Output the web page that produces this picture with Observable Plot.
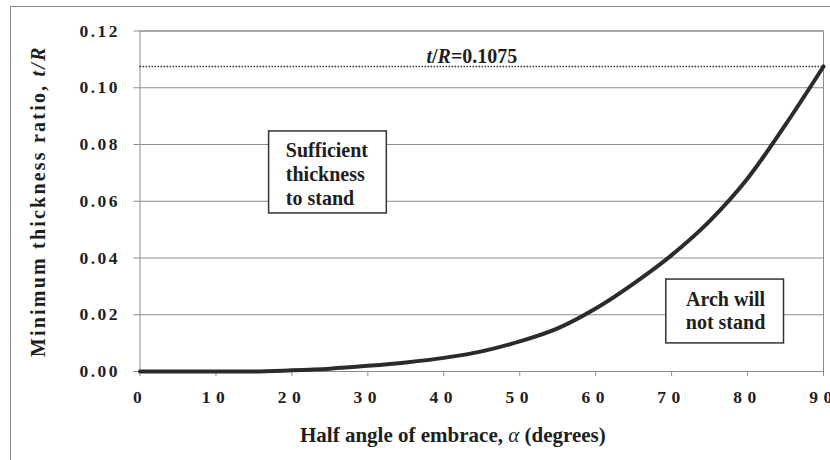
<!DOCTYPE html>
<html><head><meta charset="utf-8">
<script src="https://cdn.jsdelivr.net/npm/d3@7"></script>
<script src="https://cdn.jsdelivr.net/npm/@observablehq/plot@0.6"></script>
<style>
html,body{margin:0;padding:0;background:#fff;overflow:hidden;width:830px;height:460px}
#wrap{position:relative;width:830px;height:460px}
#border{position:absolute;left:10px;top:6px;width:900px;height:600px;border:1px solid #8a8a8a;box-sizing:border-box}
#wrap svg{position:absolute;left:0;top:0}
#wrap svg, #wrap svg text, #wrap svg tspan{font-family:"Liberation Serif","Times New Roman",serif !important}
g[aria-label="y-axis tick label"] text{letter-spacing:2.5px}
g[aria-label="x-axis tick label"] text{letter-spacing:5.5px}
</style></head><body><div id="wrap"><div id="border"></div></div>
<script>
// Data
const angles    = [0, 5, 10, 15, 20, 25, 30, 35, 40, 45, 50, 55, 60, 65, 70, 75, 80, 85, 90];
const thickness = [0, 0, 0, 0, 0.0004, 0.001, 0.002, 0.0032, 0.0048, 0.0071, 0.0106, 0.0152, 0.0222, 0.031, 0.041, 0.053, 0.068, 0.087, 0.1075];
const xTicks = [0, 10, 20, 30, 40, 50, 60, 70, 80, 90];
const yTicks = [0, 0.02, 0.04, 0.06, 0.08, 0.10, 0.12];
const limitValue = 0.1075;
const limitLabel = "t/R=0.1075";
const xTitle = "Half angle of embrace, α (degrees)";
const yTitle = "Minimum thickness ratio, t/R";
const zoneLabels = ["Sufficient\nthickness\nto stand", "Arch will\nnot stand"];

// annotation placement (data units)
const zoneBoxX1 = [17.0, 69.3];
const zoneBoxX2 = [32.5, 84.8];
const zoneBoxY1 = [0.0557, 0.0099];
const zoneBoxY2 = [0.0846, 0.0324];
const zoneTextX = [19.2, 77.1];
const zoneTextY = [0.0699, 0.0218];

const curveData = angles.map((a, i) => ({a, t: thickness[i]}));
const zones = zoneLabels.map((label, i) => ({
  label, x1: zoneBoxX1[i], x2: zoneBoxX2[i], y1: zoneBoxY1[i], y2: zoneBoxY2[i],
  tx: zoneTextX[i], ty: zoneTextY[i]
}));

const serif = "Liberation Serif";
const ink = "#1e1e1e";
const grid = "#8c8c8c";

const chart = Plot.plot({
  width: 830,
  height: 460,
  marginLeft: 139.5,
  marginRight: 7,
  marginTop: 30.5,
  marginBottom: 89,
  style: {fontFamily: serif, fontSize: "17px", fontWeight: "bold", color: ink, background: "transparent"},
  x: {domain: [0, 90]},
  y: {domain: [0, 0.12]},
  marks: [
    Plot.ruleY(yTicks, {stroke: grid, strokeWidth: 1}),
    Plot.frame({stroke: grid, strokeWidth: 1}),
    Plot.axisY({ticks: yTicks, tickFormat: d3.format(".2f"), tickSize: 6, tickPadding: 14, label: null, stroke: grid, fill: ink, fontSize: 17.5, fontFamily: serif}),
    Plot.axisX({ticks: xTicks, tickFormat: d => String(d), tickSize: 5, tickPadding: 14, label: null, stroke: grid, fill: ink, fontSize: 17.5, fontFamily: serif}),
    Plot.ruleY([limitValue], {stroke: "#333", strokeWidth: 1.5, strokeDasharray: "1.5,1.5"}),
    Plot.text([limitLabel], {x: 43.7, y: limitValue, dy: -9.5, text: d => d, fontSize: 20, fill: ink, fontWeight: "bold", fontFamily: serif}),
    Plot.line(curveData, {x: "a", y: "t", stroke: "#2b2b2b", strokeWidth: 4, curve: "monotone-x"}),
    Plot.rect(zones, {x1: "x1", x2: "x2", y1: "y1", y2: "y2", fill: "white", stroke: "#333", strokeWidth: 1.5}),
    Plot.text(zones.slice(0, 1), {x: "tx", y: "ty", text: "label", textAnchor: "start", fontSize: 20, lineHeight: 1.2, fill: ink, fontWeight: "bold", fontFamily: serif}),
    Plot.text(zones.slice(1), {x: "tx", y: "ty", text: "label", textAnchor: "middle", fontSize: 20, lineHeight: 1.15, fill: ink, fontWeight: "bold", fontFamily: serif}),
    Plot.text([yTitle], {frameAnchor: "left", textAnchor: "middle", lineAnchor: "middle", rotate: -90, dx: -101, text: d => d, fontSize: 20, fill: ink, fontWeight: "bold", fontFamily: serif}),
    Plot.text([xTitle], {x: 41.2, frameAnchor: "bottom", textAnchor: "middle", lineAnchor: "middle", dy: 64, text: d => d, fontSize: 21, fill: ink, fontWeight: "bold", fontFamily: serif})
  ]
});

document.getElementById("wrap").appendChild(chart);

function styleParts(full, parts, spacing) {
  chart.querySelectorAll("text").forEach(t => {
    if (t.textContent === full && t.children.length === 0) {
      t.textContent = "";
      if (spacing) t.style.letterSpacing = spacing;
      parts.forEach(([s, it, nb]) => {
        const ts = document.createElementNS("http://www.w3.org/2000/svg", "tspan");
        ts.textContent = s;
        if (it) ts.setAttribute("font-style", "italic");
        if (nb) ts.setAttribute("font-weight", "normal");
        t.appendChild(ts);
      });
    }
  });
}
styleParts(limitLabel, [["t", true], ["/", false], ["R", true], ["=0.1075", false]]);
styleParts(yTitle, [["Minimum thickness ratio, ", false], ["t/R", true]], "2.2px");
styleParts(xTitle, [["Half angle of embrace, ", false], ["α", true, true], [" (degrees)", false]]);
</script></body></html>
